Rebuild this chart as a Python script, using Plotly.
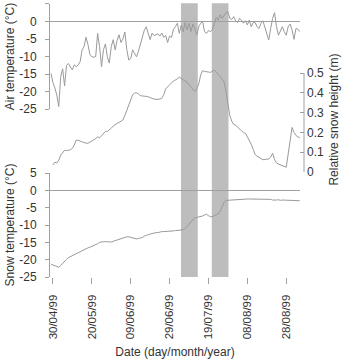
import pandas as pd
import plotly.graph_objects as go

# ---- data (daily values) ----
start_date = "1999-04-29"
air_temp = [
    -14.8, -17.5, -19.0, -21.0, -24.3, -15.8, -13.5, -18.4, -12.5, -12.0,
    -13.0, -13.8, -12.4, -12.9, -12.4, -11.5, -8.1, -7.2, -4.5, -6.5,
    -9.4, -10.1, -10.2, -10.0, -3.4, -7.2, -12.9, -8.1, -6.4, -10.1,
    -11.9, -7.2, -5.2, -8.1, -5.4, -3.8, -6.0, -5.0, -3.0, -8.0,
    -11.0, -10.6, -8.1, -9.0, -10.1, -8.5, -6.5, -4.0, -2.5, -1.5,
    -3.3, -5.2, -3.3, -4.0, -3.8, -3.5, -4.2, -3.3, -4.5, -4.0,
    -6.0, -4.2, -4.5, -2.2, -1.5, -0.5, -3.4, -1.0, -2.9, -0.3,
    -2.4, -0.5, -2.9, -0.7, -2.0, -3.9, -1.5, -0.5, 0.0, -2.9,
    -3.4, -2.6, -2.9, -2.4, -0.7, 1.2, 0.4, 1.9, 0.9, 1.6,
    2.5, 2.8, 0.9, 0.6, 1.4, 0.2, -0.3, 0.9, 0.4, -0.5,
    0.2, -1.0, 0.4, -1.5, -0.3, -0.3, -1.5, -2.0, -0.5, 0.2,
    -1.5, -3.4, -5.3, -2.0, 0.9, 2.5, -1.5, -3.9, -2.9, -1.5,
    -2.9, -3.9, -1.5, -0.7, -2.4, -5.1, -2.0, -2.2, -2.9,
]
snow_height = [  # starts one day after start_date
    0.035, 0.05, 0.045, 0.06, 0.085, 0.10, 0.11, 0.108, 0.11, 0.112,
    0.12, 0.136, 0.162, 0.16, 0.157, 0.152, 0.148, 0.146, 0.145, 0.15,
    0.153, 0.162, 0.168, 0.178, 0.172, 0.182, 0.195, 0.205, 0.205, 0.212,
    0.221, 0.232, 0.24, 0.246, 0.25, 0.256, 0.263, 0.285, 0.31, 0.335,
    0.365, 0.39, 0.398, 0.40, 0.394, 0.386, 0.384, 0.384, 0.382, 0.38,
    0.375, 0.372, 0.368, 0.367, 0.367, 0.368, 0.372, 0.39, 0.42, 0.43,
    0.443, 0.448, 0.46, 0.465, 0.47, 0.48, 0.47, 0.465, 0.46, 0.455,
    0.44, 0.43, 0.415, 0.406, 0.42, 0.445, 0.49, 0.512, 0.508, 0.505,
    0.505, 0.503, 0.51, 0.515, 0.505, 0.495, 0.485, 0.47, 0.455, 0.41,
    0.345, 0.285, 0.256, 0.24, 0.236, 0.225, 0.218, 0.208, 0.20, 0.195,
    0.178, 0.16, 0.14, 0.115, 0.088, 0.08, 0.075, 0.07, 0.062, 0.063,
    0.064, 0.066, 0.075, 0.094, 0.062, 0.046, 0.04, 0.035, 0.032, 0.028,
    0.024, 0.09, 0.16, 0.225, 0.20, 0.185, 0.178, 0.172,
]
snow_temp = [
    -21.3, -21.5, -21.7, -22.0, -22.2, -21.7, -21.0, -20.3, -19.9, -19.4,
    -19.1, -18.9, -18.6, -18.4, -18.1, -17.8, -17.4, -17.0, -16.8, -16.6,
    -16.4, -16.2, -16.0, -15.7, -15.4, -15.0, -14.8, -14.8, -14.8, -14.9,
    -15.0, -14.9, -14.7, -14.5, -14.3, -14.1, -14.0, -13.8, -13.6, -13.4,
    -13.4, -13.6, -13.8, -13.9, -14.0, -13.9, -13.8, -13.6, -13.2, -12.9,
    -12.8, -12.6, -12.4, -12.3, -12.2, -12.2, -12.0, -11.9, -11.9, -11.9,
    -11.8, -11.8, -11.7, -11.7, -11.6, -11.6, -11.6, -11.6, -11.4, -11.0,
    -10.4, -9.6, -9.0, -8.5, -7.9, -7.8, -7.7, -7.6, -7.4, -7.1,
    -6.9, -7.3, -7.6, -7.6, -7.4, -7.0, -6.8, -6.0, -4.5, -3.5,
    -2.9, -2.85, -2.8, -2.75, -2.7, -2.7, -2.65, -2.6, -2.6, -2.6,
    -2.55, -2.5, -2.5, -2.5, -2.5, -2.5, -2.5, -2.5, -2.5, -2.6,
    -2.6, -2.7, -2.6, -2.6, -2.8, -2.9, -2.8, -2.7, -2.9, -2.8,
    -2.8, -2.9, -2.8, -2.8, -2.9, -2.85, -2.9, -3.0, -3.0,
]
tick_dates = ["1999-04-30", "1999-05-20", "1999-06-09", "1999-06-29",
              "1999-07-19", "1999-08-08", "1999-08-28"]
tick_labels = ["30/04/99", "20/05/99", "09/06/99", "29/06/99",
               "19/07/99", "08/08/99", "28/08/99"]
band_starts = ["1999-07-04 21:00", "1999-07-20 17:00"]
band_ends = ["1999-07-13 12:00", "1999-07-29 07:00"]

dates = pd.date_range(start_date, periods=len(air_temp), freq="D")

LINE = "#9a9a9a"
AXIS = "#a0a0a0"
TEXT = "#333333"
FONT = "Liberation Sans, Arial, sans-serif"

fig = go.Figure()
fig.add_trace(go.Scatter(x=dates, y=air_temp, mode="lines", yaxis="y",
                         line=dict(color=LINE, width=1), showlegend=False))
fig.add_trace(go.Scatter(x=dates[1:1 + len(snow_height)], y=snow_height, mode="lines",
                         yaxis="y2", line=dict(color=LINE, width=1), showlegend=False))
fig.add_trace(go.Scatter(x=dates, y=snow_temp, mode="lines", yaxis="y3",
                         line=dict(color=LINE, width=1), showlegend=False))

for s, e in zip(band_starts, band_ends):
    fig.add_shape(type="rect", xref="x", yref="paper", x0=s, x1=e, y0=0.0036, y1=0.999,
                  fillcolor="#bdbdbd", line=dict(width=0), layer="below")

# right axis line only from 0 to 0.5
fig.add_shape(type="line", xref="paper", yref="y2", x0=1, x1=1, y0=0, y1=0.5,
              line=dict(color=AXIS, width=1))

yax_common = dict(showgrid=False, showline=True, linecolor=AXIS, linewidth=1,
                  ticks="outside", ticklen=4, tickcolor=AXIS, tickwidth=1,
                  ticklabelstandoff=6, automargin=False,
                  tickfont=dict(size=12, color=TEXT, family=FONT),
                  zeroline=True, zerolinecolor=AXIS, zerolinewidth=1,
                  range=[-25, 5], tickvals=[5, 0, -5, -10, -15, -20, -25],
                  ticktext=["5", "0", "-5", "-10", "-15", "-20", "-25"])

fig.update_layout(
    width=350, height=360,
    margin=dict(l=50, r=46, t=3, b=82),
    paper_bgcolor="white", plot_bgcolor="rgba(0,0,0,0)",
    font=dict(family=FONT, color=TEXT, size=12),
    xaxis=dict(domain=[0, 250 / 254], anchor="y3", type="date", automargin=False,
               range=["1999-04-28 12:00", "1999-09-04 02:00"],
               tickvals=tick_dates, ticktext=tick_labels, tickangle=-90,
               showgrid=False, showline=False, zeroline=False,
               ticks="outside", ticklen=6, tickcolor=AXIS, ticklabelstandoff=6,
               tickfont=dict(size=11.5, color=TEXT, family=FONT),
               title=dict(text="Date (day/month/year)", font=dict(size=12, color=TEXT),
                          standoff=9)),
    yaxis=dict(domain=[0.6145, 0.9964], anchor="x",
               title=dict(text="Air temperature (°C)", font=dict(size=12, color=TEXT),
                          standoff=2),
               **yax_common),
    yaxis3=dict(domain=[0.0036, 0.3818], anchor="x",
                title=dict(text="Snow temperature (°C)", font=dict(size=12, color=TEXT),
                           standoff=2),
                **yax_common),
    yaxis2=dict(domain=[0.3855, 0.767], anchor="free", position=1.0, side="right",
                range=[0, 0.53], tickvals=[0, 0.1, 0.2, 0.3, 0.4, 0.5],
                ticktext=["0", "0.1", "0.2", "0.3", "0.4", "0.5"], automargin=False,
                showgrid=False, zeroline=False, showline=False,
                ticks="inside", ticklen=4, tickcolor=AXIS,
                ticklabelstandoff=2,
                tickfont=dict(size=12, color=TEXT, family=FONT),
                title=dict(text="Relative snow height (m)", font=dict(size=12, color=TEXT),
                           standoff=6)),
)

fig.write_html("out.html", config={"displayModeBar": False},
               post_script="document.body.style.margin='0';document.body.style.padding='0';")
